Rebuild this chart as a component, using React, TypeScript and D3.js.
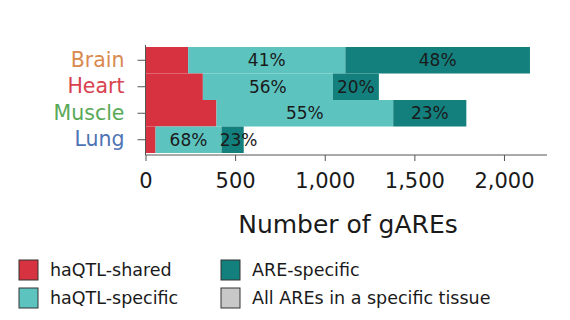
import React, { useEffect, useRef } from "react";
import * as d3 from "d3";

const tissues = ["Brain", "Heart", "Muscle", "Lung"];
const tissueColors = ["#d98a4f", "#d8424f", "#5aa957", "#4f74b3"];
const sharedCounts = [238, 320, 396, 56];
const specificCounts = [877, 725, 986, 368];
const areCounts = [1030, 257, 408, 124];
const specificLabels = ["41%", "56%", "55%", "68%"];
const areLabels = ["48%", "20%", "23%", "23%"];
const xTicks = [0, 500, 1000, 1500, 2000];

const seriesNames = ["haQTL-shared", "haQTL-specific", "ARE-specific", "All AREs in a specific tissue"];
const seriesColors = ["#d7323f", "#5cc3bf", "#13807e", "#c8c8c8"];

const FONT = "'DejaVu Sans', sans-serif";

const App: React.FC = () => {
  const svgRef = useRef<SVGSVGElement | null>(null);

  useEffect(() => {
    if (!svgRef.current) return;
    const svg = d3.select(svgRef.current);
    svg.selectAll("*").remove();

    const width = 570;
    const height = 320;
    svg.attr("width", width).attr("height", height).style("font-family", FONT);

    const x = d3.scaleLinear().domain([0, 2240]).range([145.5, 547]);
    const y = d3.scaleBand().domain(tissues).range([47, 153]).padding(0);

    const rows = tissues.map((t, i) => {
      const s1 = sharedCounts[i];
      const s2 = s1 + specificCounts[i];
      const s3 = s2 + areCounts[i];
      return { t, segs: [[0, s1], [s1, s2], [s2, s3]] };
    });

    const bars = svg.append("g");
    rows.forEach((r) => {
      r.segs.forEach(([a, b], k) => {
        bars
          .append("rect")
          .attr("x", x(a))
          .attr("y", y(r.t)!)
          .attr("width", x(b) - x(a))
          .attr("height", y.bandwidth())
          .attr("fill", seriesColors[k]);
      });
    });

    // percentage labels
    rows.forEach((r, i) => {
      const cy = y(r.t)! + y.bandwidth() / 2;
      const [a1, b1] = r.segs[1];
      const [a2, b2] = r.segs[2];
      svg
        .append("text")
        .attr("x", (x(a1) + x(b1)) / 2)
        .attr("y", cy)
        .attr("dy", "0.36em")
        .attr("text-anchor", "middle")
        .attr("font-size", 17)
        .attr("fill", "#1a1a1a")
        .text(specificLabels[i]);
      svg
        .append("text")
        .attr("x", (x(a2) + x(b2)) / 2 + (i === 3 ? 6 : 0))
        .attr("y", cy)
        .attr("dy", "0.36em")
        .attr("text-anchor", "middle")
        .attr("font-size", 17)
        .attr("fill", "#1a1a1a")
        .text(areLabels[i]);
    });

    // bottom axis
    const xAxis = svg
      .append("g")
      .attr("transform", "translate(0,155)")
      .call(
        d3
          .axisBottom(x)
          .tickValues(xTicks)
          .tickSize(6)
          .tickPadding(12)
          .tickSizeOuter(0)
          .tickFormat(d3.format(",") as any)
      );
    xAxis.select(".domain").attr("stroke", "#555").attr("d", `M${x(0)},0H547`);
    xAxis.selectAll(".tick line").attr("stroke", "#555");
    xAxis
      .selectAll(".tick text")
      .attr("font-size", 21)
      .attr("font-family", FONT)
      .attr("fill", "#1a1a1a");

    // left axis
    const yAxis = svg
      .append("g")
      .attr("transform", `translate(${x(0)},0)`)
      .call(d3.axisLeft(y).tickSize(8).tickPadding(13).tickSizeOuter(0));
    yAxis.select(".domain").attr("stroke", "#555").attr("d", "M0,45V155");
    yAxis.selectAll(".tick line").attr("stroke", "#555");
    yAxis
      .selectAll<SVGTextElement, string>(".tick text")
      .attr("font-size", 20.5)
      .attr("font-family", FONT)
      .attr("fill", (d) => tissueColors[tissues.indexOf(d)]);

    svg
      .append("text")
      .attr("x", 348)
      .attr("y", 233)
      .attr("text-anchor", "middle")
      .attr("font-size", 25)
      .attr("fill", "#1a1a1a")
      .text("Number of gAREs");

    // legend
    const legendPos = [
      [19, 260],
      [19, 288],
      [221, 260],
      [221, 288],
    ];
    seriesNames.forEach((name, k) => {
      const [lx, ly] = legendPos[k];
      svg
        .append("rect")
        .attr("x", lx)
        .attr("y", ly)
        .attr("width", 19)
        .attr("height", 20)
        .attr("fill", seriesColors[k])
        .attr("stroke", "#333")
        .attr("stroke-width", 1);
      svg
        .append("text")
        .attr("x", lx + 31)
        .attr("y", ly + 10)
        .attr("dy", "0.36em")
        .attr("font-size", 17.5)
        .attr("fill", "#1a1a1a")
        .text(name);
    });
  }, []);

  return <svg ref={svgRef} style={{ position: "absolute", left: 0, top: 0, background: "#fff" }}></svg>;
};

export default App;
